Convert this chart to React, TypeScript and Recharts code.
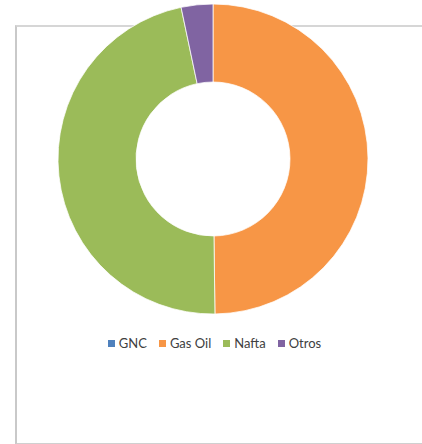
import React from "react";
import { PieChart, Pie, Cell, Legend } from "recharts";

// fuel share (%)
const categories = ["GNC", "Gas Oil", "Nafta", "Otros"];
const shares = [0, 49.8, 46.9, 3.3];
const colors = ["#4F81BD", "#F79646", "#9BBB59", "#8064A2"];

const data = categories.map((name, i) => ({ name, value: shares[i] }));

const LegendContent = () => (
  <div
    style={{
      display: "flex",
      justifyContent: "center",
      alignItems: "center",
      fontFamily: "Lato, 'Open Sans', sans-serif",
      fontSize: 13,
      color: "#404040",
      gap: 12,
      paddingLeft: 7,
    }}
  >
    {categories.map((name, i) => (
      <span key={name} style={{ display: "flex", alignItems: "center" }}>
        <span
          style={{
            display: "inline-block",
            width: 7,
            height: 7,
            background: colors[i],
            marginRight: 4,
          }}
        />
        {name}
      </span>
    ))}
  </div>
);

const App: React.FC = () => {
  return (
    <div
      style={{
        position: "absolute",
        left: 0,
        top: 0,
        width: 422,
        height: 444,
        background: "#fff",
        overflow: "hidden",
      }}
    >
      <div
        style={{
          position: "absolute",
          left: 15,
          top: 25,
          width: 420,
          height: 416,
          borderLeft: "2px solid #c9c9c9",
          borderTop: "2px solid #d6d6d6",
          borderBottom: "2px solid #d0d0d0",
        }}
      />
      <div style={{ position: "absolute", left: 0, top: 0 }}>
        <PieChart
          width={422}
          height={444}
          margin={{ top: 0, right: 0, bottom: 0, left: 0 }}
        >
          <Pie
            data={data}
            dataKey="value"
            nameKey="name"
            cx={213}
            cy={159}
            outerRadius={155}
            innerRadius={77}
            startAngle={90}
            endAngle={-270}
            stroke="#ffffff"
            strokeWidth={0.75}
            isAnimationActive={false}
          >
            {data.map((d, i) => (
              <Cell key={d.name} fill={colors[i]} />
            ))}
          </Pie>
          <Legend
            content={<LegendContent />}
            wrapperStyle={{ position: "absolute", top: 335, left: 0, width: 422 }}
          />
        </PieChart>
      </div>
    </div>
  );
};

export default App;
